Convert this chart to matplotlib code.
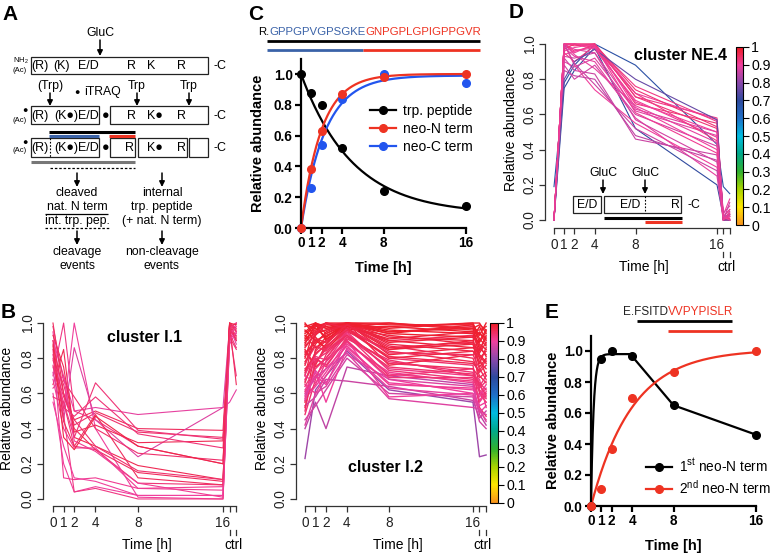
import numpy as np
import matplotlib
matplotlib.use('Agg')
import matplotlib.pyplot as plt
from matplotlib.colors import LinearSegmentedColormap, Normalize
from matplotlib import transforms as mtransforms
from matplotlib.lines import Line2D
from matplotlib.patches import Rectangle, FancyArrowPatch
from matplotlib.offsetbox import TextArea, HPacker, AnnotationBbox
from matplotlib.cm import ScalarMappable

plt.rcParams['font.family'] = ['Liberation Sans', 'DejaVu Sans']
plt.rcParams['mathtext.fontset'] = 'custom'
plt.rcParams['mathtext.rm'] = 'Liberation Sans'
plt.rcParams['mathtext.it'] = 'Liberation Sans:italic'
plt.rcParams['mathtext.bf'] = 'Liberation Sans:bold'

# ---------------- data ----------------
time_pos = [0, 1, 2, 4, 8, 16, 16.62, 17.25]
time_labels = ['0', '1', '2', '4', '8', '16', '', '']
kin_time = [0, 1, 2, 4, 8, 16]

# panel C
c_trp = [1.0, 0.875, 0.80, 0.52, 0.24, 0.14]
c_neoN = [0.0, 0.38, 0.63, 0.87, 0.98, 1.0]
c_neoC = [0.0, 0.26, 0.54, 0.84, 1.0, 0.94]
# fitted one-phase parameters (plateau, rate)
c_trp_fit = (0.09, 0.20)
c_neoN_fit = (1.0, 0.51)
c_neoC_fit = (0.99, 0.43)

# panel E
e_first = [0.0, 0.95, 1.0, 0.965, 0.65, 0.46]
e_second = [0.0, 0.11, 0.37, 0.70, 0.865, 1.0]
e_first_fit = (0.98, 4.0)
e_second_fit = (1.01, 0.25)

# panel D: cluster NE.4
ne4_profiles = [
    [0.19, 0.78, 0.88, 1.00, 0.88, 0.43, 0.19, 0.15],
    [0.00, 0.75, 0.85, 0.98, 0.52, 0.20, 0.02, 0.03],
    [0.00, 1.00, 1.00, 1.00, 0.70, 0.58, 0.00, 0.02],
    [0.00, 1.00, 0.95, 1.00, 0.72, 0.57, 0.02, 0.06],
    [0.00, 0.95, 0.90, 0.99, 0.66, 0.55, 0.00, 0.03],
    [0.00, 1.00, 0.97, 0.95, 0.63, 0.50, 0.01, 0.00],
    [0.00, 0.92, 0.85, 0.83, 0.46, 0.37, 0.00, 0.05],
    [0.00, 1.00, 0.88, 0.74, 0.55, 0.30, 0.03, 0.12],
    [0.00, 0.88, 0.80, 0.88, 0.60, 0.42, 0.00, 0.00],
    [0.00, 1.00, 1.00, 0.97, 0.68, 0.47, 0.02, 0.06],
    [0.00, 0.98, 0.93, 0.90, 0.58, 0.25, 0.00, 0.02],
    [0.00, 1.00, 0.99, 1.00, 0.70, 0.52, 0.01, 0.00],
    [0.00, 0.85, 0.82, 0.80, 0.48, 0.34, 0.02, 0.00],
    [0.00, 1.00, 0.96, 0.99, 0.76, 0.56, 0.00, 0.04],
    [0.00, 0.96, 0.98, 1.00, 0.64, 0.40, 0.00, 0.02],
    [0.00, 0.90, 0.87, 0.92, 0.62, 0.48, 0.04, 0.08],
    [0.00, 1.00, 1.00, 0.98, 0.72, 0.45, 0.00, 0.00],
    [0.00, 0.93, 0.92, 0.95, 0.57, 0.33, 0.00, 0.03],
    [0.00, 1.00, 0.94, 0.86, 0.65, 0.44, 0.02, 0.00],
    [0.00, 0.97, 1.00, 1.00, 0.74, 0.53, 0.00, 0.01],
    [0.00, 0.80, 0.90, 0.97, 0.80, 0.57, 0.00, 0.00],
    [0.00, 1.00, 0.89, 0.77, 0.52, 0.28, 0.00, 0.10],
    [0.00, 0.94, 0.96, 0.98, 0.67, 0.50, 0.02, 0.00],
    [0.00, 1.00, 1.00, 0.99, 0.61, 0.38, 0.00, 0.04],
]
ne4_members = [0.68, 0.70, 0.92, 0.90, 0.93, 0.88, 0.86, 0.90, 0.87, 0.91, 0.89, 0.93,
               0.85, 0.92, 0.90, 0.88, 0.92, 0.87, 0.89, 0.93, 0.76, 0.86, 0.90, 0.91]

# panel B: cluster I.1
i1_profiles = [
    [0.60, 0.20, 0.04, 0.07, 0.02, 0.02, 1.00, 0.95],
    [0.85, 0.12, 0.11, 0.12, 0.06, 0.07, 0.97, 0.90],
    [0.75, 0.55, 0.30, 0.28, 0.09, 0.08, 0.92, 0.85],
    [0.90, 0.70, 0.50, 0.52, 0.48, 0.52, 0.55, 0.62],
    [1.00, 0.60, 0.45, 0.50, 0.40, 0.39, 1.00, 0.95],
    [0.80, 0.65, 0.42, 0.49, 0.38, 0.35, 0.98, 1.00],
    [0.70, 1.00, 0.50, 0.45, 0.30, 0.20, 0.95, 0.70],
    [0.65, 0.85, 0.35, 0.30, 0.19, 0.11, 1.00, 0.92],
    [0.95, 0.50, 1.00, 0.40, 0.01, 0.00, 0.90, 1.00],
    [0.72, 0.45, 0.86, 0.45, 0.24, 0.52, 0.98, 0.88],
    [0.88, 0.60, 0.40, 0.28, 0.15, 0.10, 1.00, 0.96],
    [0.58, 0.55, 0.35, 0.66, 0.39, 0.34, 0.96, 0.93],
    [0.93, 0.75, 0.38, 0.42, 0.32, 0.33, 0.99, 0.90],
    [0.68, 0.40, 0.29, 0.29, 0.06, 0.05, 0.93, 0.98],
    [0.82, 0.48, 0.04, 0.06, 0.00, 0.00, 0.97, 1.00],
    [0.55, 0.30, 0.12, 0.10, 0.02, 0.02, 0.88, 0.95],
    [0.98, 0.67, 0.58, 0.40, 0.26, 0.22, 1.00, 0.97],
    [0.76, 0.52, 0.47, 0.58, 0.37, 0.29, 0.94, 0.86],
    [0.90, 0.44, 0.30, 0.48, 0.12, 0.08, 0.99, 0.65],
    [0.63, 0.70, 0.33, 0.27, 0.09, 0.01, 0.91, 0.94],
    [0.87, 0.35, 0.28, 0.47, 0.30, 0.20, 1.00, 0.99],
    [0.79, 0.58, 0.45, 0.30, 0.16, 0.11, 0.96, 0.91],
]
i1_members = [0.90, 0.91, 0.93, 0.89, 0.95, 0.94, 0.92, 0.96, 0.90, 0.88, 0.95, 0.93,
              0.96, 0.91, 0.92, 0.90, 0.94, 0.93, 0.95, 0.91, 0.97, 0.94]

# panel B: cluster I.2
i2_profiles = [
    [0.23, 0.62, 0.70, 0.84, 0.62, 0.55, 0.24, 0.25],
    [0.40, 0.55, 0.40, 0.75, 0.70, 0.65, 0.48, 0.42],
    [0.55, 0.85, 0.92, 1.00, 0.95, 0.98, 0.80, 0.70],
    [0.70, 0.95, 1.00, 0.98, 0.90, 0.93, 0.60, 0.55],
    [0.85, 0.75, 0.80, 0.95, 0.85, 0.90, 0.95, 0.88],
    [0.60, 0.70, 0.65, 0.90, 0.68, 0.60, 0.50, 0.45],
    [0.95, 1.00, 0.90, 1.00, 1.00, 0.97, 0.85, 0.92],
    [0.50, 0.80, 0.75, 0.92, 0.78, 0.72, 0.62, 0.58],
    [0.78, 0.88, 0.95, 1.00, 0.82, 0.86, 0.90, 0.96],
    [0.65, 0.60, 0.70, 0.88, 0.72, 0.66, 0.55, 0.60],
    [0.90, 0.98, 1.00, 0.97, 0.93, 0.88, 0.75, 0.80],
    [0.45, 0.53, 0.62, 0.80, 0.60, 0.58, 0.44, 0.40],
    [1.00, 0.92, 0.85, 0.96, 0.98, 1.00, 1.00, 0.94],
    [0.72, 0.82, 0.88, 0.99, 0.87, 0.80, 0.70, 0.66],
    [0.58, 0.65, 0.78, 0.94, 0.74, 0.70, 0.68, 0.52],
    [0.88, 1.00, 0.98, 1.00, 0.96, 0.94, 0.88, 0.85],
    [0.62, 0.72, 0.55, 0.86, 0.66, 0.62, 0.58, 0.63],
    [0.82, 0.90, 0.93, 0.98, 0.91, 0.95, 0.82, 0.78],
    [0.48, 0.68, 0.82, 0.96, 0.80, 0.76, 0.52, 0.47],
    [0.93, 0.86, 0.90, 1.00, 0.99, 0.99, 0.93, 1.00],
    [0.68, 0.78, 0.85, 0.93, 0.70, 0.74, 0.64, 0.70],
    [0.76, 0.94, 0.96, 1.00, 0.88, 0.84, 0.78, 0.74],
    [0.53, 0.58, 0.68, 0.67, 0.64, 0.56, 0.46, 0.50],
    [0.98, 1.00, 0.94, 0.99, 0.94, 0.92, 0.98, 0.90],
    [0.66, 0.84, 0.90, 0.97, 0.84, 0.78, 0.72, 0.76],
    [0.84, 0.76, 0.88, 1.00, 0.76, 0.82, 0.86, 0.82],
    [0.57, 0.64, 0.72, 0.90, 0.58, 0.60, 0.53, 0.55],
    [0.91, 0.96, 1.00, 1.00, 0.97, 1.00, 0.91, 0.87],
    [0.74, 0.80, 0.76, 0.91, 0.79, 0.70, 0.66, 0.62],
    [0.80, 0.99, 0.97, 0.99, 0.85, 0.88, 0.84, 0.93],
    [0.42, 0.60, 0.64, 0.82, 0.68, 0.64, 0.50, 0.48],
    [0.96, 0.90, 0.86, 0.98, 1.00, 0.96, 0.96, 0.98],
    [0.64, 0.74, 0.80, 0.95, 0.73, 0.68, 0.61, 0.57],
    [0.87, 0.93, 0.99, 1.00, 0.92, 0.90, 0.80, 0.84],
    [0.70, 0.66, 0.74, 0.87, 0.65, 0.63, 0.59, 0.65],
    [0.52, 0.77, 0.86, 0.97, 0.83, 0.82, 0.74, 0.68],
    [0.99, 0.97, 0.92, 1.00, 0.95, 0.97, 0.99, 0.96],
    [0.77, 0.87, 0.84, 0.93, 0.77, 0.74, 0.69, 0.72],
    [0.61, 0.70, 0.78, 0.89, 0.71, 0.67, 0.56, 0.61],
    [0.89, 0.95, 0.96, 0.99, 0.89, 0.92, 0.87, 0.81],
    [0.73, 0.83, 0.87, 0.96, 0.81, 0.77, 0.73, 0.79],
    [0.83, 0.89, 0.94, 1.00, 0.90, 0.86, 0.83, 0.89],
    [0.56, 0.73, 0.66, 0.85, 0.63, 0.59, 0.49, 0.53],
    [0.94, 0.99, 0.91, 0.98, 0.98, 0.95, 0.94, 0.91],
    [0.67, 0.79, 0.83, 0.92, 0.75, 0.71, 0.65, 0.59],
    [0.81, 0.91, 0.89, 0.99, 0.86, 0.89, 0.77, 0.86],
    [0.59, 0.69, 0.74, 0.83, 0.57, 0.52, 0.51, 0.44],
    [0.92, 1.00, 0.97, 1.00, 0.94, 0.99, 0.89, 0.95],
    [0.71, 0.81, 0.79, 0.90, 0.69, 0.69, 0.63, 0.67],
    [0.86, 0.94, 1.00, 0.97, 0.80, 0.84, 0.81, 0.77],
]
i2_members = [0.82, 0.85, 0.97, 0.96, 0.98, 0.90, 0.99, 0.93, 0.98, 0.91,
              0.98, 0.87, 0.99, 0.96, 0.92, 0.99, 0.90, 0.98, 0.94, 0.99,
              0.93, 0.97, 0.86, 0.99, 0.96, 0.97, 0.90, 0.99, 0.94, 0.98,
              0.88, 0.99, 0.93, 0.98, 0.91, 0.95, 0.99, 0.95, 0.92, 0.98,
              0.96, 0.98, 0.89, 0.99, 0.94, 0.97, 0.88, 0.99, 0.93, 0.97]

cbar_ticks = [0.0, 0.1, 0.2, 0.3, 0.4, 0.5, 0.6, 0.7, 0.8, 0.9, 1.0]
cbar_labels = ['0', '0.1', '0.2', '0.3', '0.4', '0.5', '0.6', '0.7', '0.8', '0.9', '1']

# ---------------- style ----------------
CMAP = LinearSegmentedColormap.from_list('mfuzz', [
    (0.00, '#F7931E'), (0.10, '#FFE600'), (0.20, '#A8D400'), (0.30, '#30B030'),
    (0.40, '#00A88A'), (0.50, '#00BCE0'), (0.60, '#1E6FC8'), (0.70, '#2E4A9E'),
    (0.80, '#8A48AA'), (0.90, '#F0409E'), (1.00, '#EE1C25')])
RED = '#EE3322'
BLUE = '#2255EE'
SEQ_BLUE = '#3A62A8'

W, H = 775, 555
fig = plt.figure(figsize=(7.75, 5.55), dpi=100)
PX = mtransforms.Affine2D().scale(1 / W, -1 / H).translate(0, 1) + fig.transFigure


def rect(x0, y0, x1, y1):
    return [x0 / W, 1 - y1 / H, (x1 - x0) / W, (y1 - y0) / H]


def T(x, y, s, size=8.8, ha='center', va='center', **kw):
    fig.text(x, y, s, transform=PX, ha=ha, va=va, fontsize=size, **kw)


def L(xs, ys, color='black', lw=1.0, ls='-'):
    fig.add_artist(Line2D(xs, ys, transform=PX, color=color, lw=lw, ls=ls,
                          solid_capstyle='butt'))


def BOX(x0, y0, x1, y1, lw=0.9):
    fig.add_artist(Rectangle((x0, y0), x1 - x0, y1 - y0, transform=PX,
                             fill=False, ec='#222222', lw=lw))


def ARROW(x, y0, y1):
    fig.add_artist(FancyArrowPatch((x, y0), (x, y1), transform=PX,
                                   arrowstyle='-|>', mutation_scale=8,
                                   color='black', lw=1.1, shrinkA=0, shrinkB=0))


# ---------------- cluster panels (R style) ----------------
def cluster_panel(px, xlim, ylim, profiles, members, title, tpos, ylab_x, lw=0.8):
    ax = fig.add_axes(rect(*px))
    for prof, m in zip(profiles, members):
        ax.plot(time_pos, prof, color=CMAP(m), lw=lw)
    ax.set_xlim(*xlim)
    ax.set_ylim(*ylim)
    for s in ['top', 'right']:
        ax.spines[s].set_visible(False)
    for s in ['left', 'bottom']:
        ax.spines[s].set_linewidth(0.9)
        ax.spines[s].set_color('#333333')
    ax.spines['left'].set_bounds(0, 1)
    ax.spines['bottom'].set_bounds(time_pos[0], time_pos[-1])
    ax.set_xticks(time_pos)
    ax.set_xticklabels(time_labels)
    yt = [0, 0.2, 0.4, 0.6, 0.8, 1.0]
    ax.set_yticks(yt)
    ax.set_yticklabels(['%.1f' % v for v in yt], rotation=90, va='center')
    ax.tick_params(direction='out', length=4.5, width=0.9, labelsize=9.8,
                   colors='#333333', labelcolor='#222222')
    ax.tick_params(axis='y', pad=1.5)
    ax.tick_params(axis='x', pad=2.5)
    yb = px[3]
    blend = mtransforms.blended_transform_factory(ax.transData, PX)
    for c in time_pos[-2:]:
        fig.add_artist(Line2D([c, c], [yb + 24, yb + 29], transform=blend,
                              color='#333333', lw=0.9))
    fig.text(np.mean(time_pos[-2:]), yb + 39, 'ctrl', transform=blend,
             ha='center', va='center', fontsize=9.8)
    fig.text(8.8, yb + 39, 'Time [h]', transform=blend, ha='center',
             va='center', fontsize=10)
    T(ylab_x, (px[1] + px[3]) / 2 - 3, 'Relative abundance', size=10, rotation=90)
    T(tpos[0], tpos[1], title, size=11.5, weight='bold')
    return ax


def colorbar(px):
    cax = fig.add_axes(rect(*px))
    cb = fig.colorbar(ScalarMappable(Normalize(0, 1), CMAP), cax=cax, ticks=cbar_ticks)
    cb.set_ticklabels(cbar_labels)
    cb.outline.set_linewidth(0.8)
    cax.tick_params(length=4, width=0.8, labelsize=10.2, pad=2)


cluster_panel((43, 316, 243, 506), (-0.94, 17.88), (-0.04, 1.04),
              i1_profiles, i1_members, 'cluster I.1', (145, 337), 7)
cluster_panel((296, 316, 488, 506), (-0.857, 17.43), (-0.04, 1.04),
              i2_profiles, i2_members, 'cluster I.2', (386, 467), 262, lw=1.0)
colorbar((490, 323, 498, 503))
cluster_panel((545, 37, 733, 228), (-0.883, 17.57), (-0.045, 1.04),
              ne4_profiles, ne4_members, 'cluster NE.4', (680, 55), 511)
colorbar((736, 47, 743, 225))


# ---------------- kinetic panels (GraphPad style) ----------------
def kin_axes(px):
    ax = fig.add_axes(rect(*px))
    ax.set_xlim(0, 16)
    ax.set_ylim(0, 1.1)
    for s in ['top', 'right']:
        ax.spines[s].set_visible(False)
    for s in ['left', 'bottom']:
        ax.spines[s].set_linewidth(1.6)
    ax.set_xticks(kin_time)
    ax.set_yticks([0, 0.2, 0.4, 0.6, 0.8, 1.0])
    ax.set_yticklabels(['0.0', '0.2', '0.4', '0.6', '0.8', '1.0'])
    ax.tick_params(direction='out', length=4, width=1.6, labelsize=9.8, pad=2)
    for lab in ax.get_xticklabels() + ax.get_yticklabels():
        lab.set_fontweight('bold')
    ax.set_xlabel('Time [h]', fontsize=10.5, fontweight='bold', labelpad=8)
    return ax


tt = np.linspace(0, 16, 300)

axC = kin_axes((301, 58.6, 466, 228))
p, k = c_trp_fit
axC.plot(tt, p + (1 - p) * np.exp(-k * tt), color='black', lw=1.6, clip_on=False)
p, k = c_neoC_fit
axC.plot(tt, p * (1 - np.exp(-k * tt)), color=BLUE, lw=1.6, clip_on=False)
p, k = c_neoN_fit
axC.plot(tt, p * (1 - np.exp(-k * tt)), color=RED, lw=1.6, clip_on=False)
axC.plot(kin_time, c_trp, 'o', color='black', ms=5.5, clip_on=False, zorder=5)
axC.plot(kin_time, c_neoC, 'o', color=BLUE, ms=5.5, clip_on=False, zorder=5)
axC.plot(kin_time, c_neoN, 'o', color=RED, ms=5.5, clip_on=False, zorder=5)
hC = [Line2D([], [], color='black', marker='o', ms=5.5, lw=1.6),
      Line2D([], [], color=RED, marker='o', ms=5.5, lw=1.6),
      Line2D([], [], color=BLUE, marker='o', ms=5.5, lw=1.6)]
axC.legend(hC, ['trp. peptide', 'neo-N term', 'neo-C term'], loc='upper left',
           bbox_to_anchor=(370 / W, 1 - 104 / H), bbox_transform=fig.transFigure,
           frameon=False, fontsize=10, handlelength=1.9, handletextpad=0.5,
           labelspacing=0.3, borderpad=0, borderaxespad=0)
T(258, 143, 'Relative abundance', size=10.5, weight='bold', rotation=90)

axE = kin_axes((591, 335.5, 756, 506))
p, k = e_first_fit
t_rise = np.linspace(0, kin_time[3], 200)
axE.plot(np.concatenate([t_rise, kin_time[3:]]),
         np.concatenate([p * (1 - np.exp(-k * t_rise)), e_first[3:]]),
         color='black', lw=1.6, clip_on=False)
p, k = e_second_fit
axE.plot(tt, p * (1 - np.exp(-k * tt)), color=RED, lw=1.6, clip_on=False)
axE.plot(kin_time, e_first, 'o', color='black', ms=5.5, clip_on=False, zorder=5)
axE.plot(kin_time, e_second, 'o', color=RED, ms=5.5, clip_on=False, zorder=5)
hE = [Line2D([], [], color='black', marker='o', ms=5.5, lw=1.6),
      Line2D([], [], color=RED, marker='o', ms=5.5, lw=1.6)]
axE.legend(hE, ['1$^{\\mathrm{st}}$ neo-N term', '2$^{\\mathrm{nd}}$ neo-N term'],
           loc='upper left', bbox_to_anchor=(646 / W, 1 - 457 / H),
           bbox_transform=fig.transFigure, frameon=False, fontsize=9.8,
           handlelength=1.9, handletextpad=0.5, labelspacing=0.3, borderpad=0,
           borderaxespad=0)
T(553, 420, 'Relative abundance', size=10.5, weight='bold', rotation=90)


# ---------------- sequence headers ----------------
def seq_text(x, y, parts, size=8.5):
    kids = [TextArea(s, textprops=dict(color=c, fontsize=size)) for s, c in parts]
    box = HPacker(children=kids, sep=0, pad=0, align='baseline')
    fig.add_artist(AnnotationBbox(box, (x, y), xycoords=PX, frameon=False,
                                  box_alignment=(0.5, 0.5), pad=0))


seq_text(370, 32, [('R.', 'black'), ('GPPGPVGPSGKE', SEQ_BLUE), ('GNPGPLGPIGPPGVR', RED)],
         size=8.2)
L([267, 480], [41, 41], lw=2.0)
L([267, 363], [50, 50], color=SEQ_BLUE, lw=2.0)
L([363, 480], [50, 50], color=RED, lw=2.0)

seq_text(678, 312, [('E.FSITD', '#222222'), ('VVPYPISLR', RED)])
L([637, 732], [321, 321], lw=2.0)
L([668, 732], [331, 331], color=RED, lw=2.0)

# ---------------- D inset schematic ----------------
BOX(573, 196, 601, 213)
BOX(604, 196, 681, 213)
T(587, 205, 'E/D')
T(630, 205, 'E/D')
T(675, 205, 'R')
L([645, 645], [196, 213], lw=0.8, ls=(0, (1.5, 1.5)))
T(687, 205, '-C', ha='left')
T(603, 173, 'GluC')
T(645, 173, 'GluC')
ARROW(603, 180, 194)
ARROW(645, 180, 194)
L([604, 682], [218, 218], lw=2.2)
L([645, 682], [222, 222], color=RED, lw=2.2)

# ---------------- panel A schematic ----------------
T(100, 33, 'GluC')
ARROW(100, 40, 56)
BOX(31, 57, 208, 74)
T(21, 61, 'NH$_2$', size=5.5)
T(20, 70, '(Ac)', size=5.5)
for xx, s in [(40, '(R)'), (61, '(K)'), (88, 'E/D'), (131, 'R'), (151, 'K'), (182, 'R')]:
    T(xx, 66, s, size=9)
T(213, 66, '-C', ha='left', size=9)

T(50, 86, '(Trp)')
T(77, 92, '\u25CF', size=6.5)
T(84, 92, 'iTRAQ', ha='left')
T(137, 86, 'Trp')
T(189, 86, 'Trp')
for xx in [50, 137, 189]:
    ARROW(xx, 93, 106)

BOX(31, 106, 99, 124)
BOX(110, 106, 208, 124)
for xx, s in [(40, '(R)'), (66, '(K\u25CF)'), (88, 'E/D'), (106, '\u25CF'),
              (132, 'R'), (155, 'K\u25CF'), (182, 'R')]:
    T(xx, 116, s, size=9)
T(213, 116, '-C', ha='left', size=9)
T(25, 110, '\u25CF', size=6.5)
T(20, 120, '(Ac)', size=5.5)

L([49, 135], [132, 132], lw=2.2)
L([49, 99], [136, 136], color=SEQ_BLUE, lw=2.2)
L([109, 135], [136, 136], color=RED, lw=2.2)

BOX(31, 138, 99, 157)
BOX(110, 138, 135, 157)
BOX(138, 138, 187, 157)
BOX(189, 138, 208, 157)
L([50, 50], [138, 157], lw=0.8, ls=(0, (1.5, 1.5)))
for xx, s in [(40, '(R)'), (66, '(K\u25CF)'), (88, 'E/D'), (106, '\u25CF'),
              (129, 'R'), (155, 'K\u25CF'), (181, 'R')]:
    T(xx, 148, s, size=9)
T(213, 148, '-C', ha='left', size=9)
T(25, 142, '\u25CF', size=6.5)
T(20, 151, '(Ac)', size=5.5)

L([31, 135], [162, 162], color='#777777', lw=2.2)
L([50, 135], [168, 168], lw=0.9, ls=(0, (2, 1.5)))
ARROW(77, 173, 187)
ARROW(162, 173, 187)
T(77, 193, 'cleaved')
T(77, 207, 'nat. N term')
L([45, 108], [214, 214], lw=0.9)
T(77, 221, 'int. trp. pep.')
L([45, 110], [228, 228], lw=0.9, ls=(0, (2, 1.5)))
ARROW(77, 231, 245)
T(77, 252, 'cleavage')
T(77, 266, 'events')
T(162, 193, 'internal')
T(162, 207, 'trp. peptide')
T(162, 221, '(+ nat. N term)')
ARROW(162, 231, 245)
T(162, 252, 'non-cleavage')
T(162, 266, 'events')

# ---------------- panel letters ----------------
for s, xx, yy in [('A', 2, 14), ('B', 1, 312), ('C', 248, 14), ('D', 509, 13), ('E', 545, 312)]:
    T(xx, yy, s, size=15, weight='bold', ha='left')

fig.savefig('out.png', dpi=100)
